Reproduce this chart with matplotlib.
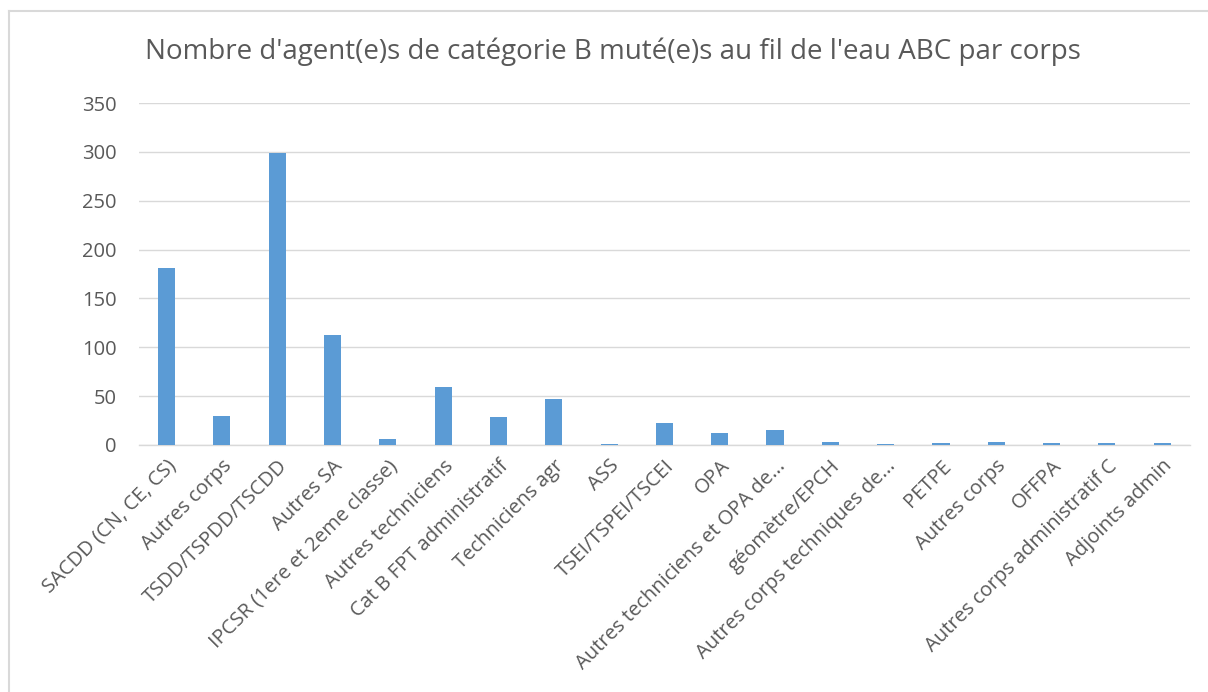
import matplotlib
matplotlib.use("Agg")
import matplotlib.pyplot as plt
from matplotlib.lines import Line2D

categories = ["SACDD (CN, CE, CS)", "Autres corps", "TSDD/TSPDD/TSCDD", "Autres SA",
              "IPCSR (1ere et 2eme classe)", "Autres techniciens", "Cat B FPT administratif",
              "Techniciens agr", "ASS", "TSEI/TSPEI/TSCEI", "OPA", "Autres techniciens et OPA de...",
              "géomètre/EPCH", "Autres corps techniques de...", "PETPE", "Autres corps", "OFFPA",
              "Autres corps administratif C", "Adjoints admin"]
values = [181, 30, 299, 113, 6, 59, 29, 47, 0.5, 22, 12, 15, 3, 0.5, 2, 3, 2, 2, 2]
yticks = [0, 50, 100, 150, 200, 250, 300, 350]
title = "Nombre d'agent(e)s de catégorie B muté(e)s au fil de l'eau ABC par corps"

plt.rcParams['font.family'] = ['Open Sans', 'DejaVu Sans']
fig = plt.figure(figsize=(12.08, 6.92), dpi=100)
bx = 8.5 / 1208
by = 1 - 10.5 / 692
fig.lines.append(Line2D([bx, bx], [0, by], transform=fig.transFigure, color='#d9d9d9', linewidth=1.5))
fig.lines.append(Line2D([bx, 1], [by, by], transform=fig.transFigure, color='#d9d9d9', linewidth=1.5))
ax = fig.add_axes([0.115, 0.357, 0.870, 0.494])
x = list(range(len(categories)))
ax.bar(x, values, width=0.31, color='#5b9bd5', zorder=3)
ax.set_xlim(-0.5, len(categories) - 0.5)
ax.set_ylim(0, 350)
ax.set_yticks(yticks)
ax.yaxis.grid(True, color='#d9d9d9', linewidth=1)
ax.set_axisbelow(True)
for s in ['top', 'right', 'left']:
    ax.spines[s].set_visible(False)
ax.spines['bottom'].set_color('#d9d9d9')
ax.spines['bottom'].set_linewidth(1)
ax.tick_params(axis='y', length=0, labelsize=14.5, colors='#595959', pad=16)
ax.tick_params(axis='x', length=0, labelsize=14.5, colors='#595959', pad=8)
ax.set_xticks(x)
ax.set_xticklabels(categories, rotation=45, ha='right', rotation_mode='anchor')
fig.text(0.507, 0.925, title, ha='center', va='center', fontsize=20, color='#595959')
fig.savefig("out.png", dpi=100)
